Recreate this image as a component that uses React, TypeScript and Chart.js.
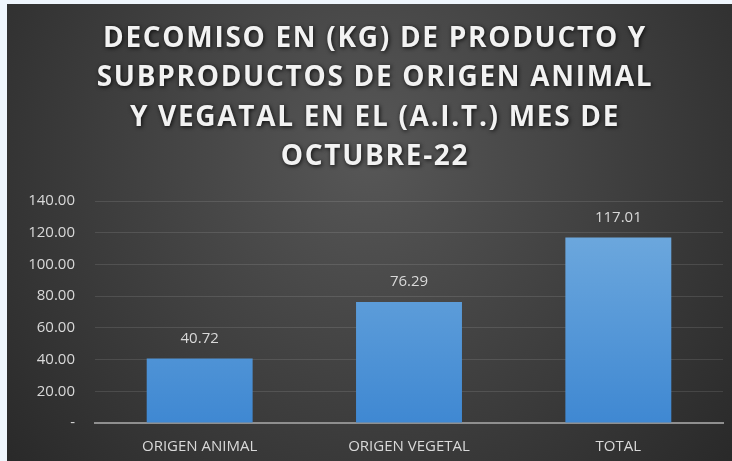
import React, { useEffect, useRef } from "react";
import { Chart, registerables } from "chart.js";

Chart.register(...registerables);

const TITLE_LINES = [
  "DECOMISO EN (KG) DE PRODUCTO Y",
  "SUBPRODUCTOS DE ORIGEN ANIMAL",
  "Y VEGATAL EN EL (A.I.T.) MES DE",
  "OCTUBRE-22",
];
const CATEGORIES = ["ORIGEN ANIMAL", "ORIGEN VEGETAL", "TOTAL"];
const VALUES = [40.72, 76.29, 117.01];
const Y_MIN = 0;
const Y_MAX = 140;
const Y_STEP = 20;

const FONT = "'Open Sans', 'DejaVu Sans', sans-serif";

const backgroundPlugin = {
  id: "bgPlugin",
  beforeDraw(chart: any) {
    const { ctx, width, height } = chart;
    ctx.save();
    const g = ctx.createRadialGradient(width / 2, 150, 0, width / 2, 150, 520);
    g.addColorStop(0, "#575757");
    g.addColorStop(1, "#252525");
    ctx.fillStyle = g;
    ctx.fillRect(0, 0, width, height);
    ctx.restore();
  },
};

const titlePlugin = {
  id: "titlePlugin",
  afterDraw(chart: any) {
    const { ctx } = chart;
    ctx.save();
    ctx.font = `bold 28px ${FONT}`;
    (ctx as any).letterSpacing = "1.7px";
    ctx.textAlign = "center";
    ctx.textBaseline = "middle";
    ctx.fillStyle = "#f2f2f2";
    ctx.shadowColor = "rgba(0,0,0,0.85)";
    ctx.shadowBlur = 4;
    ctx.shadowOffsetX = 1;
    ctx.shadowOffsetY = 1;
    TITLE_LINES.forEach((line, i) => {
      ctx.fillText(line, 368, 35 + i * 39.5);
    });
    ctx.restore();
  },
};

const labelPlugin = {
  id: "labelPlugin",
  afterDatasetsDraw(chart: any) {
    const { ctx } = chart;
    const meta = chart.getDatasetMeta(0);
    ctx.save();
    ctx.font = `15px ${FONT}`;
    ctx.fillStyle = "#d9d9d9";
    ctx.textAlign = "center";
    ctx.textBaseline = "middle";
    meta.data.forEach((bar: any, i: number) => {
      ctx.fillText(VALUES[i].toFixed(2), bar.x, bar.y - 20);
    });
    ctx.restore();
  },
};

export default function App() {
  const ref = useRef<HTMLCanvasElement | null>(null);

  useEffect(() => {
    document.body.style.background = "#eff6fd";
    const canvas = ref.current;
    if (!canvas) return;
    const chart = new Chart(canvas, {
      type: "bar",
      data: {
        labels: CATEGORIES,
        datasets: [
          {
            data: VALUES,
            backgroundColor: (c: any) => {
              const area = c.chart.chartArea;
              if (!area) return "#5a9bdc";
              const g = c.chart.ctx.createLinearGradient(0, area.top, 0, area.bottom);
              g.addColorStop(0, "#74addf");
              g.addColorStop(1, "#3f88d2");
              return g;
            },
            borderWidth: 0,
            categoryPercentage: 1,
            barPercentage: 0.506,
          },
        ],
      },
      options: {
        animation: false,
        responsive: false,
        layout: { padding: { top: 197, right: 9, bottom: 5, left: 0 } },
        plugins: {
          legend: { display: false },
          title: { display: false },
          tooltip: { enabled: false },
        },
        scales: {
          x: {
            afterFit: (s: any) => {
              s.height = 33;
            },
            grid: { display: false, drawTicks: false },
            border: { display: true, color: "#8f8f8f", width: 2 },
            ticks: {
              color: "#d9d9d9",
              font: { family: FONT, size: 15 },
              padding: 15,
            },
          },
          y: {
            min: Y_MIN,
            max: Y_MAX,
            afterFit: (s: any) => {
              s.width = 88;
            },
            border: { display: false },
            grid: {
              drawTicks: false,
              color: (c: any) => (c.tick && c.tick.value === 0 ? "rgba(0,0,0,0)" : "rgba(255,255,255,0.11)"),
              lineWidth: 1,
            },
            ticks: {
              stepSize: Y_STEP,
              color: "#d9d9d9",
              font: { family: FONT, size: 15 },
              padding: 20,
              callback: (v: any) => (Number(v) === 0 ? "-" : Number(v).toFixed(2)),
            },
          },
        },
      },
      plugins: [backgroundPlugin, titlePlugin, labelPlugin],
    });
    return () => chart.destroy();
  }, []);

  return (
    <div style={{ position: "fixed", left: 7, top: 4, width: 725, height: 457 }}>
      <canvas ref={ref} width={725} height={457} style={{ display: "block" }} />
    </div>
  );
}
